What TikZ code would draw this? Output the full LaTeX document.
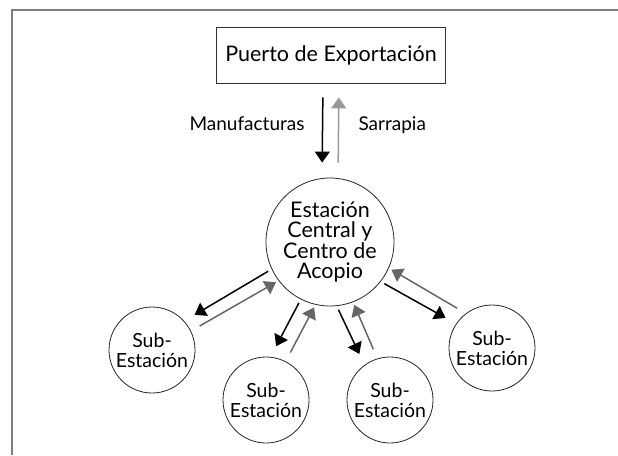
\documentclass[tikz,border=0pt]{standalone}
\usepackage{fontspec}
\setmainfont{Lato}
\usetikzlibrary{arrows.meta}
\usetikzlibrary{positioning}

\begin{document}
\begin{tikzpicture}[x=1pt, y=-1pt,
    station/.style={circle, draw=black!85, line width=0.8pt, inner sep=0pt, align=center},
    substation/.style={station, minimum size=86pt, font=\fontsize{19.5}{20}\selectfont},
    tip/.style={-{Triangle[width=15pt,length=11pt]}},
    goods/.style={tip, line width=1.5pt, black, shorten <=4pt, shorten >=12pt},
    back/.style={tip, line width=1.5pt, black!60, shorten <=10pt, shorten >=3pt},
    lbl/.style={font=\fontsize{19}{20}\selectfont}]
    \useasboundingbox (0,0) rectangle (618,455);
    \draw[black!50, line width=1.8pt] (618,10) -- (12,10) -- (12,455);

    \node[rectangle, draw=black!80, line width=0.8pt, minimum width=229pt, minimum height=56pt, font=\fontsize{21.5}{22}\selectfont] (port) at (331,55) {Puerto de Exportación};
    \node[station, minimum size=128pt, font=\fontsize{21.5}{20.5}\selectfont] (central) at (330,242) {Estación\\Central y\\Centro de\\Acopio};
    \node[substation] (sub1) at (152,350) {Sub-\\Estación};
    \node[substation] (sub2) at (266,400) {Sub-\\Estación};
    \node[substation] (sub3) at (390,400) {Sub-\\Estación};
    \node[substation] (sub4) at (492,348) {Sub-\\Estación};

    \node[lbl, anchor=base east] (manuf) at (308,130) {Manufacturas};
    \node[lbl, anchor=base west] (sarr) at (355,130) {Sarrapia};

    \draw [goods, shorten <=14pt, shorten >=15pt] ([xshift=-8pt]port.south) -- ([xshift=-8pt]central.north);
    \draw [back, black!40, shorten <=15pt, shorten >=14pt] ([xshift=8pt]central.north) -- ([xshift=8pt]port.south);

    \draw [goods] (central.205) -- (sub1.42);
    \draw [back] (sub1.26) -- (central.217);
    \draw [goods] (central.243) -- (sub2.84);
    \draw [back] (sub2.63) -- (central.257);
    \draw [goods] (central.276) -- (sub3.126);
    \draw [back] (sub3.107) -- (central.291);
    \draw [goods] (central.322) -- (sub4.146);
    \draw [back] (sub4.127) -- (central.336);
\end{tikzpicture}
\end{document}
